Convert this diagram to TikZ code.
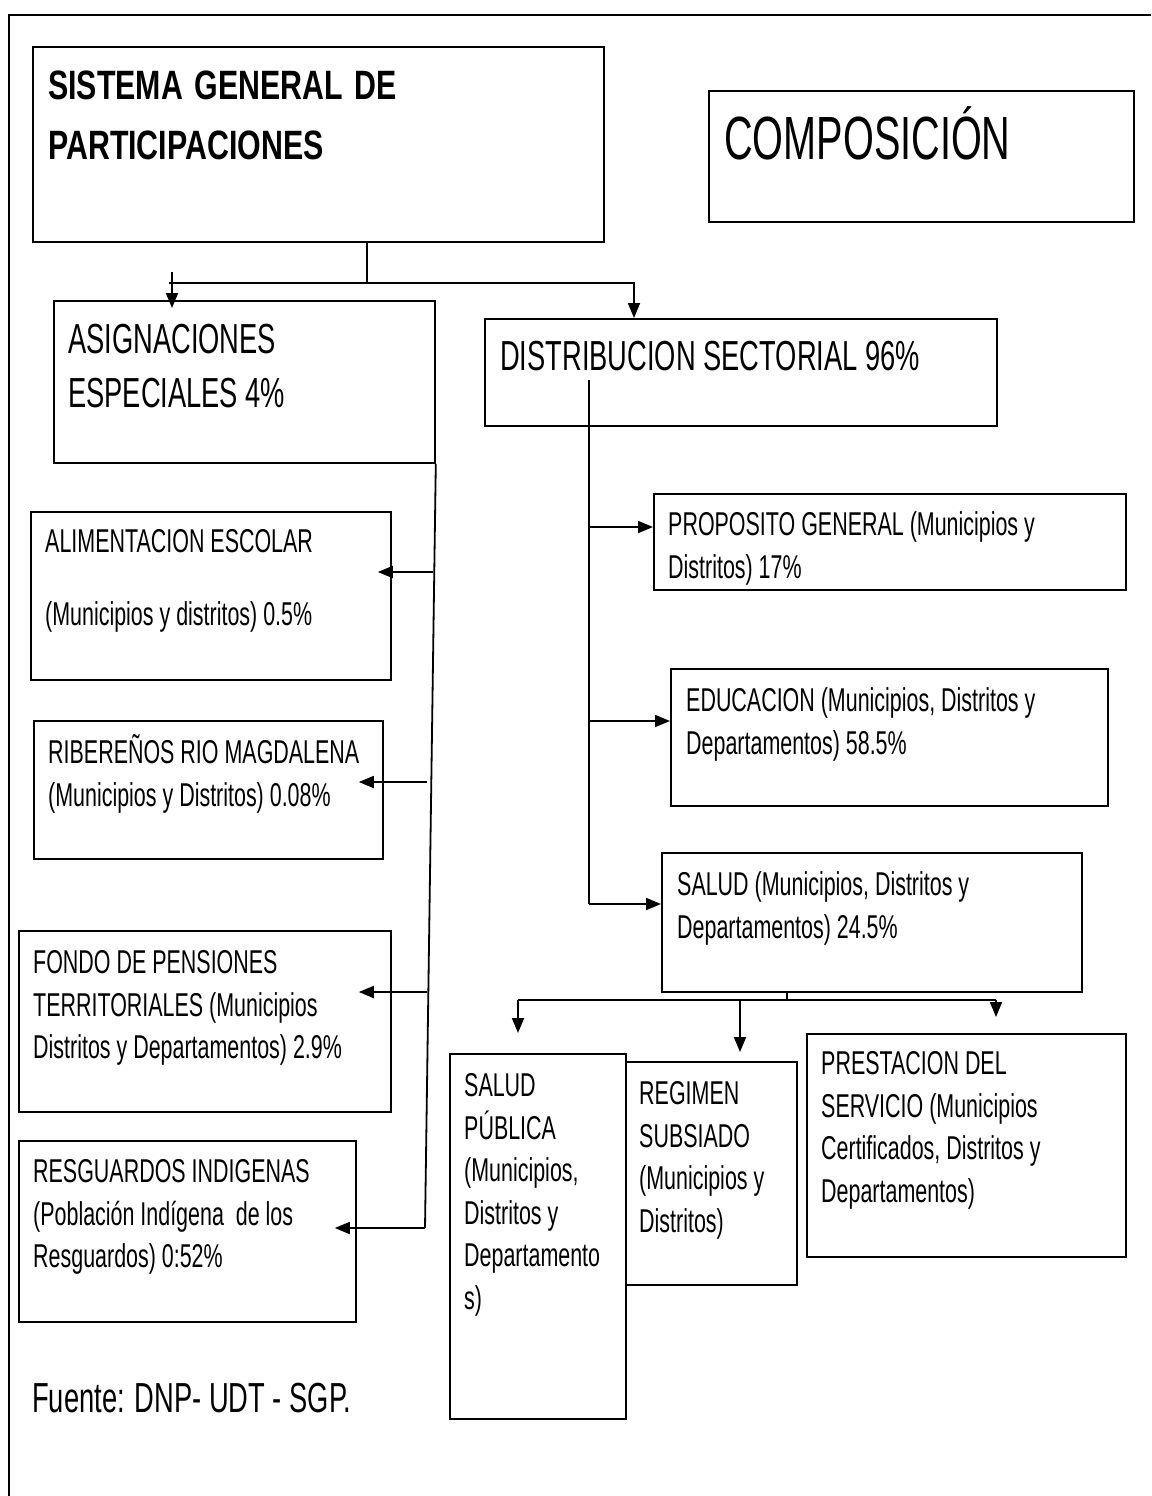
\documentclass[tikz,border=0pt]{standalone}
\usepackage{fontspec}
\setmainfont{Liberation Sans}
\newfontfamily\narrow[FakeStretch=0.65]{Liberation Sans}
\newfontfamily\narrowbf[FakeStretch=0.74]{Liberation Sans}
\usetikzlibrary{arrows.meta, calc}

\newcommand{\bodysize}{\fontsize{33}{42.5}\selectfont}
\newcommand{\midsize}{\fontsize{42}{54}\selectfont}
\newcommand{\headsize}{\fontsize{41}{60}\selectfont}

\begin{document}
\begin{tikzpicture}[
    x=1pt, y=-1pt,
    box/.style={draw, line width=1.8pt, inner sep=0pt, anchor=north west},
    txt/.style={inner sep=0pt, anchor=north west, align=left, font=\narrow\bodysize},
    link/.style={line width=1.8pt},
    arr/.style={line width=1.8pt, -{Triangle[length=15pt,width=12pt]}}
]
\useasboundingbox (0,0) rectangle (1151,1496);
% outer frame
\draw[line width=2pt] (9,1496) -- (9,15) -- (1151,15);

% Boxes
\node[box, minimum width=571, minimum height=195] (sgp) at (32,46) {};
\node[box, minimum width=425, minimum height=131] (comp) at (708,90) {};
\node[box, minimum width=381, minimum height=162] (asig) at (53,300) {};
\node[box, minimum width=512, minimum height=107] (dist) at (484,318) {};
\node[box, minimum width=360, minimum height=168] (alim) at (30,511) {};
\node[box, minimum width=349, minimum height=138] (ribe) at (33,720) {};
\node[box, minimum width=372, minimum height=181] (fondo) at (18,930) {};
\node[box, minimum width=337, minimum height=181] (resg) at (18,1140) {};
\node[box, minimum width=472, minimum height=96] (prop) at (653,493) {};
\node[box, minimum width=437, minimum height=137] (educ) at (670,668) {};
\node[box, minimum width=420, minimum height=139] (salud) at (661,852) {};
\node[box, minimum width=176, minimum height=365] (spub) at (449,1053) {};
\node[box, minimum width=171, minimum height=223] (regim) at (625,1061) {};
\node[box, minimum width=319, minimum height=223] (prest) at (806,1033) {};

% Texts
\node[txt, font=\narrowbf\bfseries\headsize] (sgp-t) at (48,57) {\strut SISTEMA\hspace{3pt} GENERAL\hspace{3pt} DE\\PARTICIPACIONES};
\node[txt, font=\narrow\fontsize{61}{73}\selectfont] (comp-t) at (724,106) {\strut COMPOSICIÓN};
\node[txt, font=\narrow\midsize] (asig-t) at (68,315) {\strut ASIGNACIONES\\ESPECIALES 4\%};
\node[txt, font=\narrow\midsize] (dist-t) at (500,332) {\strut DISTRIBUCION SECTORIAL 96\%};
\node[txt] (alim-t) at (45,523) {\strut ALIMENTACION ESCOLAR\\[30pt](Municipios y distritos) 0.5\%};
\node[txt] (ribe-t) at (48,734) {\strut RIBEREÑOS RIO MAGDALENA\\(Municipios y Distritos) 0.08\%};
\node[txt] (fondo-t) at (33,944) {\strut FONDO DE PENSIONES\\TERRITORIALES (Municipios\\Distritos y Departamentos) 2.9\%};
\node[txt] (resg-t) at (33,1153) {\strut RESGUARDOS INDIGENAS\\(Población Indígena\ \ de los\\Resguardos) 0:52\%};
\node[txt] (prop-t) at (668,506) {\strut PROPOSITO GENERAL (Municipios y\\Distritos) 17\%};
\node[txt] (educ-t) at (686,682) {\strut EDUCACION (Municipios, Distritos y\\Departamentos) 58.5\%};
\node[txt] (salud-t) at (677,866) {\strut SALUD (Municipios, Distritos y\\Departamentos) 24.5\%};
\node[txt] (spub-t) at (464,1067) {\strut SALUD\\PÚBLICA\\(Municipios,\\Distritos y\\Departamento\\s)};
\node[txt] (regim-t) at (639,1075) {\strut REGIMEN\\SUBSIADO\\(Municipios y\\Distritos)};
\node[txt] (prest-t) at (821,1045) {\strut PRESTACION DEL\\SERVICIO (Municipios\\Certificados, Distritos y\\Departamentos)};
\node[txt, font=\narrow\fontsize{42}{54}\selectfont] (fuente) at (32,1374) {\strut Fuente: DNP- UDT - SGP.};

% SGP -> asignaciones / distribucion
\coordinate (j0) at (367,283);
\coordinate (a1) at (172,272);
\coordinate (d1) at (634,283);
\draw[link] (j0 |- sgp.south) -- (j0);
\draw[arr] ([xshift=-3pt]j0 -| a1) -- (d1) -- (d1 |- dist.north);
\draw[arr] (a1) -- ([yshift=-8pt]a1 |- asig.north);

% asignaciones especiales
\coordinate (lv) at (425,1228);
\coordinate (l1) at (433,572);
\coordinate (l2) at (427,782);
\coordinate (l3) at (427,992);
\draw[link] (asig.south east) -- (lv);
\draw[arr] (l1) -- ([xshift=-14pt]l1 -| alim.east);
\draw[arr] (l2) -- ([xshift=-25pt]l2 -| ribe.east);
\draw[arr] (l3) -- ([xshift=-33pt]l3 -| fondo.east);
\draw[arr] (lv) -- ([xshift=-22pt]lv -| resg.east);

% distribucion sectorial
\coordinate (rv) at (589,380);
\coordinate (r1) at (589,527);
\coordinate (r2) at (589,721);
\coordinate (r3) at (589,904);
\draw[link] (rv) -- (r3);
\draw[arr] (r1) -- (r1 -| prop.west);
\draw[arr] (r2) -- (r2 -| educ.west);
\draw[arr] (r3) -- (r3 -| salud.west);

% salud
\coordinate (s0) at (787,1000);
\coordinate (s1) at (518,1000);
\coordinate (s2) at (740,1000);
\coordinate (s3) at (996,1000);
\draw[link] (s0 |- salud.south) -- (s0);
\draw[link] (s1) -- (s3);
\draw[arr] (s1) -- ([yshift=20pt]s1 |- spub.north);
\draw[arr] (s2) -- ([yshift=9pt]s2 |- regim.north);
\draw[arr] (s3) -- ([yshift=16pt]s3 |- prest.north);
\end{tikzpicture}
\end{document}
